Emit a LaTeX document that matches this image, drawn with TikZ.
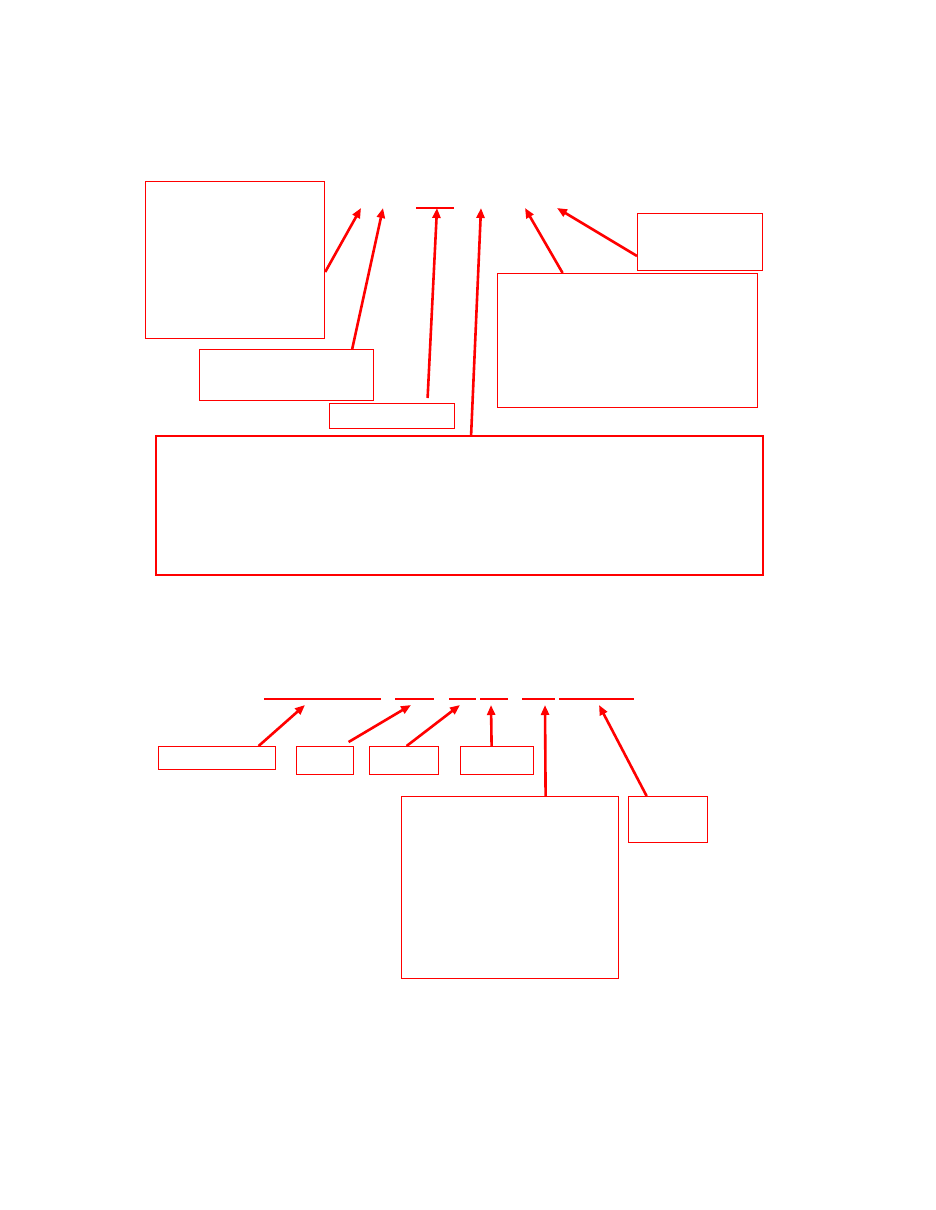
\documentclass[tikz,border=0pt]{standalone}
\usetikzlibrary{arrows.meta}
\begin{document}
\begin{tikzpicture}[
    x=1pt, y=-1pt,
    box/.style={rectangle, draw=red, line width=1.2pt, anchor=north west, inner sep=0pt},
    pointer/.style={-{Triangle[length=10pt,width=8pt]}, draw=red, line width=2.6pt},
    underline/.style={draw=red, line width=2.6pt}
]
\useasboundingbox (0,0) rectangle (935,1210);

% upper group
\node[box, minimum width=179, minimum height=157] (leftnote) at (145,181) {};
\node[box, minimum width=174, minimum height=51] (midnote) at (199,349) {};
\node[box, minimum width=125, minimum height=25] (smallnote) at (329,403) {};
\node[box, line width=2.2pt, minimum width=607, minimum height=139] (widenote) at (155,435) {};
\node[box, minimum width=260, minimum height=134] (rightnote) at (497,273) {};
\node[box, minimum width=125, minimum height=57] (cornernote) at (637,213) {};

\coordinate (tipA) at (361,208);
\coordinate (tipB) at (383,208);
\coordinate (tipC) at (437,208);
\coordinate (tipD) at (481,208);
\coordinate (tipE) at (525,208);
\coordinate (tipF) at (557,208);

\draw[underline] (416,208) -- (454,208);

\draw[pointer] ([yshift=-91pt]leftnote.north east) -- (tipA);
\draw[pointer] ([xshift=-22pt]midnote.north east) -- (tipB);
\draw[pointer] ([xshift=35.5pt, yshift=5pt]smallnote.north) -- (tipC);
\draw[pointer] ([xshift=11.5pt]widenote.north) -- (tipD);
\draw[pointer] ([xshift=-65pt]rightnote.north) -- (tipE);
\draw[pointer] ([yshift=-43pt]cornernote.north west) -- (tipF);

% lower group
\node[box, minimum width=117, minimum height=23] (firstnote) at (158,746) {};
\node[box, minimum width=57, minimum height=28] (secondnote) at (296,746) {};
\node[box, minimum width=69, minimum height=28] (thirdnote) at (369,746) {};
\node[box, minimum width=73, minimum height=28] (fourthnote) at (460,746) {};
\node[box, minimum width=217, minimum height=182] (bignote) at (401,796) {};
\node[box, minimum width=79, minimum height=46] (lastnote) at (628,796) {};

\draw[underline] (264,699) -- (381,699);
\draw[underline] (395,699) -- (434,699);
\draw[underline] (449,699) -- (476,699);
\draw[underline] (480,699) -- (508,699);
\draw[underline] (522,699) -- (555,699);
\draw[underline] (559,699) -- (634,699);

\coordinate (tip1) at (305,705);
\coordinate (tip2) at (411,705);
\coordinate (tip3) at (460,705);
\coordinate (tip4) at (491,705);
\coordinate (tip5) at (545,705);
\coordinate (tip6) at (599,705);

\draw[pointer] ([xshift=41.5pt]firstnote.north) -- (tip1);
\draw[pointer] ([xshift=23.5pt, yshift=4pt]secondnote.north) -- (tip2);
\draw[pointer] ([xshift=2.5pt]thirdnote.north) -- (tip3);
\draw[pointer] ([xshift=-5.5pt]fourthnote.north) -- (tip4);
\draw[pointer] ([xshift=35.5pt]bignote.north) -- (tip5);
\draw[pointer] ([xshift=-21.5pt]lastnote.north) -- (tip6);

\end{tikzpicture}
\end{document}
